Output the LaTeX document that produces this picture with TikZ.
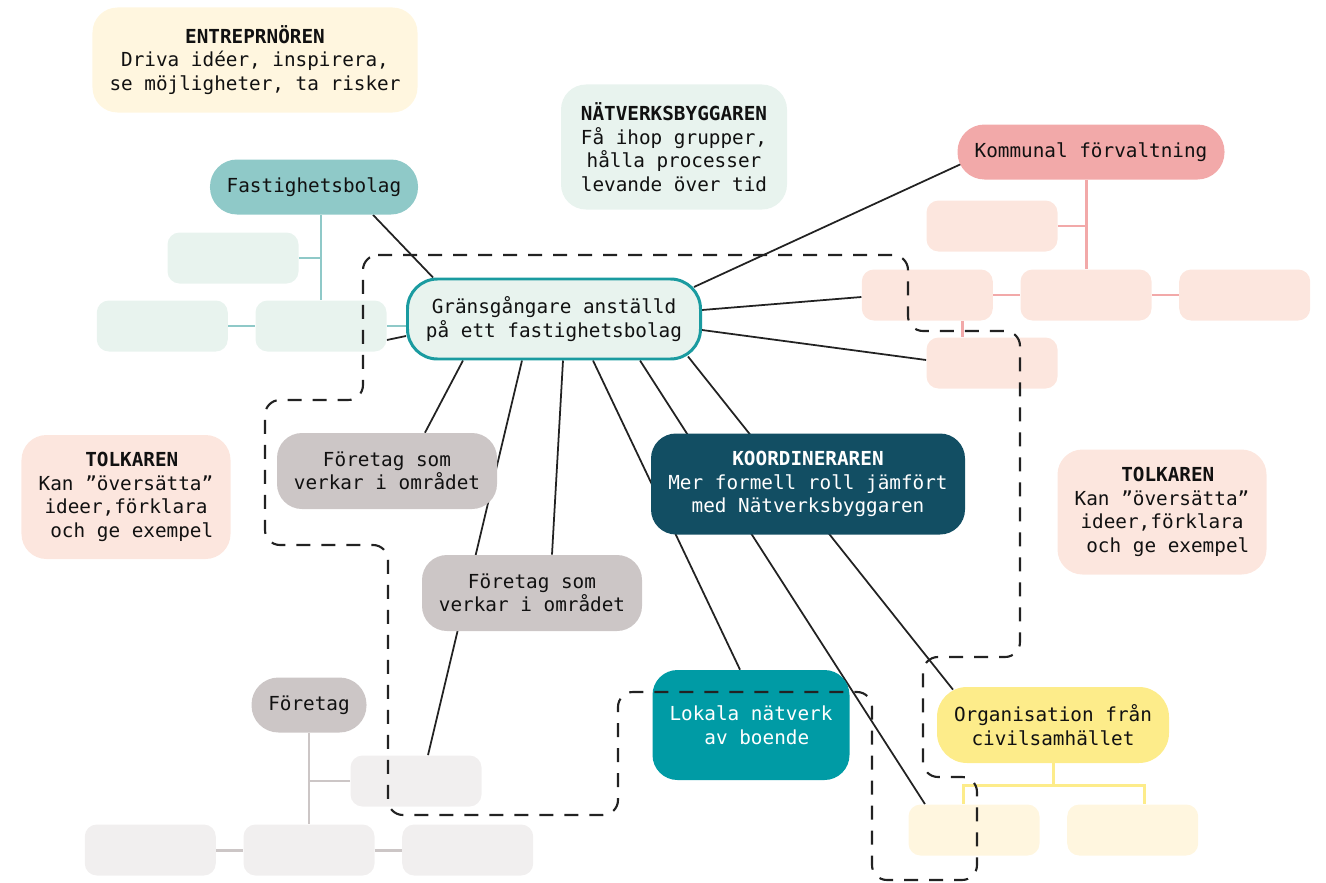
\documentclass[tikz,border=0pt]{standalone}
\usepackage{fontspec}
\setmainfont{DejaVu Sans Mono}
\usepackage{xcolor}
\usetikzlibrary{positioning,backgrounds}

\definecolor{mintbg}{HTML}{E8F3EE}
\definecolor{tealmid}{HTML}{8FC9C8}
\definecolor{hubline}{HTML}{1A9BA0}
\definecolor{pinkmid}{HTML}{F2A9A9}
\definecolor{pinkbg}{HTML}{FCE6DE}
\definecolor{graymid}{HTML}{CCC6C6}
\definecolor{graybg}{HTML}{F1EFEF}
\definecolor{yellowmid}{HTML}{FDEC8A}
\definecolor{yellowbg}{HTML}{FFF6DF}
\definecolor{deepteal}{HTML}{124E63}
\definecolor{lokalteal}{HTML}{009BA5}
\definecolor{inkgray}{HTML}{222222}
\definecolor{textink}{HTML}{111111}

\begin{document}
\begin{tikzpicture}[
  x=0.2mm, y=-0.2mm,
  font=\fontsize{11}{13.4}\selectfont,
  node distance=5.4mm,
  box/.style={align=center, inner sep=1pt, rounded corners=#1, text=textink},
  box/.default=5mm,
  pill/.style={box=5.4mm, minimum height=11mm},
  leaf/.style={box=2.4mm, minimum width=26.2mm, minimum height=10.2mm},
  note/.style={box=5mm},
  firmbox/.style={box=5mm, fill=graymid, minimum width=44mm, minimum height=15.2mm},
  hub/.style={box=6mm, fill=mintbg, draw=hubline, line width=1.7pt, minimum width=58.6mm, minimum height=16mm},
  link/.style={draw=inkgray, line width=1pt},
  branch/.style={draw=#1, line width=1.7pt},
  zone/.style={draw=inkgray, line width=1.2pt, dash pattern=on 2.8mm off 2.2mm, rounded corners=3mm}
]
  \useasboundingbox (0,0) rectangle (1326,883);

  % Centre
  \node[hub] (hub) at (554,319) {Gränsgångare anställd\\på ett fastighetsbolag};

  % Role notes
  \node[note, fill=yellowbg, minimum width=65mm, minimum height=21mm] (entre) at (255,60)
    {\textbf{ENTREPRNÖREN}\\Driva idéer, inspirera,\\se möjligheter, ta risker};
  \node[note, fill=mintbg, minimum width=45.2mm, minimum height=25mm] (natv) at (674,147)
    {\textbf{NÄTVERKSBYGGAREN}\\Få ihop grupper,\\hålla processer\\levande över tid};
  \node[note, fill=pinkbg, minimum width=41.8mm, minimum height=24.8mm] (tolkL) at (126,497)
    {\textbf{\hphantom{x}TOLKAREN}\\Kan ”översätta”\\ideer,förklara\\\hphantom{x}och ge exempel};
  \node[note, fill=pinkbg, minimum width=41.8mm, minimum height=25mm] (tolkR) at (1162,512)
    {\textbf{\hphantom{x}TOLKAREN}\\Kan ”översätta”\\ideer,förklara\\\hphantom{x}och ge exempel};

  % Fastighetsbolag
  \node[pill, fill=tealmid, minimum width=41.6mm] (fastig) at (314,187) {Fastighetsbolag};
  \node[leaf, fill=mintbg] (mintA) at (233,258) {};
  \node[leaf, fill=mintbg] (mintC) at (321,326) {};
  \node[leaf, fill=mintbg, left=of mintC] (mintB) {};

  % Kommun
  \node[pill, fill=pinkmid, minimum width=53.4mm] (kommun) at (1091,152) {Kommunal förvaltning};
  \node[leaf, fill=pinkbg] (pinkT) at (992,226) {};
  \node[leaf, fill=pinkbg] (pinkC) at (1086,295) {};
  \node[leaf, fill=pinkbg, left=of pinkC] (pinkA) {};
  \node[leaf, fill=pinkbg, right=of pinkC] (pinkD) {};
  \node[leaf, fill=pinkbg] (pinkE) at (992,363) {};

  % Företag
  \node[firmbox] (firmA) at (387,471) {Företag som\\verkar i området};
  \node[firmbox] (firmB) at (532,593) {Företag som\\verkar i området};
  \node[pill, fill=graymid, minimum width=23mm] (firm) at (309,705) {Företag};
  \node[leaf, fill=graybg] (grayB) at (416,781) {};
  \node[leaf, fill=graybg] (grayC) at (309,850) {};
  \node[leaf, fill=graybg, left=of grayC] (grayA) {};
  \node[leaf, fill=graybg, right=of grayC] (grayD) {};

  % Koordinerare, boende, civilsamhälle
  \node[box, fill=deepteal, text=white, minimum width=62.8mm, minimum height=20.2mm] (koord) at (808,484)
    {\textbf{KOORDINERAREN}\\Mer formell roll jämfört\\med Nätverksbyggaren};
  \node[box, fill=lokalteal, text=white, minimum width=39.4mm, minimum height=22mm] (lokal) at (751,725)
    {Lokala nätverk\\\hphantom{x}av boende};
  \node[box=6mm, fill=yellowmid, minimum width=46.4mm, minimum height=15.2mm] (org) at (1053,725)
    {Organisation från\\civilsamhället};
  \node[leaf, fill=yellowbg] (yelA) at (974,830) {};
  \node[leaf, fill=yellowbg, right=of yelA] (yelB) {};

  \begin{scope}[on background layer]
    % Links from the centre
    \draw[link] ([shift={(59,0)}]fastig.south) -- ([shift={(-121,0)}]hub.north);
    \draw[link] ([shift={(-8,-32)}]hub.east) -- ([shift={(4,12)}]kommun.west);
    \draw[link] ([shift={(0,-9)}]hub.east) -- ([shift={(0,2)}]pinkA.west);
    \draw[link] ([shift={(0,11)}]hub.east) -- ([shift={(0,-3)}]pinkE.west);
    \draw[link] ([shift={(0,17)}]hub.west) -- ([shift={(0,14)}]mintC.east);
    \draw[link] ([shift={(-91,0)}]hub.south) -- ([shift={(38,0)}]firmA.north);
    \draw[link] ([shift={(-32,0)}]hub.south) -- ([shift={(12,0)}]grayB.north);
    \draw[link] ([shift={(9,0)}]hub.south) -- ([shift={(20,0)}]firmB.north);
    \draw[link] ([shift={(39,0)}]hub.south) -- ([shift={(-11,0)}]lokal.north);
    \draw[link] ([shift={(86,0)}]hub.south) -- ([shift={(-49,0)}]yelA.north);
    \draw[link] ([shift={(134,-4)}]hub.south) -- ([shift={(-100,3)}]org.north);

    % Trees
    \draw[branch=tealmid] (fastig.south -| mintC.north) -- (mintC.north);
    \draw[branch=tealmid] (mintA.east) -- (mintA.east -| mintC.north);
    \draw[branch=tealmid] (mintB) -- (mintC);
    \draw[branch=tealmid] (mintC.east) -- (mintC.east -| hub.west);

    \draw[branch=pinkmid] (kommun.south -| pinkC.north) -- (pinkC.north);
    \draw[branch=pinkmid] (pinkT.east) -- (pinkT.east -| pinkC.north);
    \draw[branch=pinkmid] (pinkA) -- (pinkC) -- (pinkD);
    \draw[branch=pinkmid] ([xshift=7mm]pinkA.south) -- ([xshift=7mm]pinkA.south |- pinkE.north);

    \draw[branch=graymid] (firm.south) -- (grayC.north);
    \draw[branch=graymid] (grayB.west) -- (grayB.west -| firm.south);
    \draw[branch=graymid] (grayA) -- (grayC) -- (grayD);

    \coordinate (ysplit) at ([shift={(0,22)}]org.south);
    \draw[branch=yellowmid] (org.south) -- (ysplit);
    \draw[branch=yellowmid] ([shift={(-11,0)}]yelA.north) |- (ysplit) -| ([shift={(12,0)}]yelB.north);
  \end{scope}

  % Dashed zone
  \draw[zone] (363,255) -- (908,255) -- (908,331) -- (1020,331) -- (1020,657) -- (923,657)
    -- (923,777) -- (977,777) -- (977,880) -- (872,880) -- (872,692) -- (618,692)
    -- (618,815) -- (388,815) -- (388,545) -- (265,545) -- (265,400) -- (363,400) -- cycle;
\end{tikzpicture}
\end{document}
